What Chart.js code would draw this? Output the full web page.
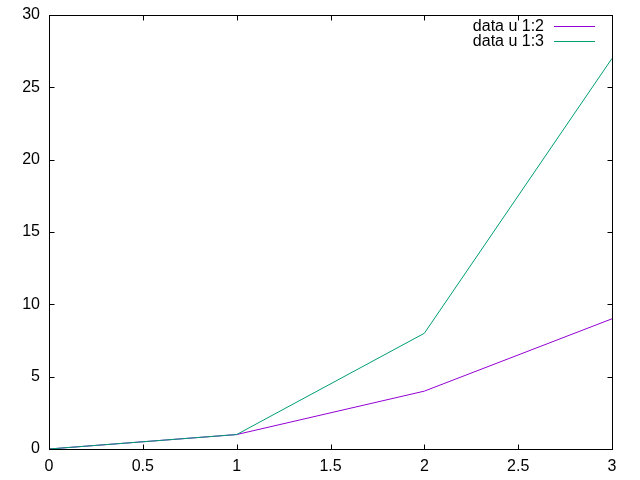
<!DOCTYPE html>
<html>
<head>
<meta charset="utf-8">
<script src="https://cdn.jsdelivr.net/npm/chart.js@4"></script>
<style>
  html, body { margin: 0; padding: 0; background: #fff; }
  #wrap { width: 640px; height: 480px; }
</style>
</head>
<body>
<div id="wrap"><canvas id="plot" width="640" height="480"></canvas></div>
<script>
// data
var xs = [0, 1, 2, 3];
var col2 = [0, 1, 4, 9];
var col3 = [0, 1, 8, 27];
var seriesNames = ['data u 1:2', 'data u 1:3'];
var seriesColors = ['#9400d3', '#009e73'];

var FONT = '16px "Liberation Sans", Arial, sans-serif';

function pts(ys) {
    return xs.map(function (x, i) { return { x: x, y: ys[i] }; });
}

// frame, inward tics (mirrored) and the key, gnuplot style
var gnuFrame = {
    id: 'gnuFrame',
    afterDraw: function (chart) {
        var ctx = chart.ctx, a = chart.chartArea;
        var L = a.left + 0.5, R = a.right + 0.5, T = a.top + 0.5, B = a.bottom + 0.5;
        var tic = 5;
        ctx.save();
        ctx.strokeStyle = '#000';
        ctx.lineWidth = 1;
        ctx.beginPath();
        chart.scales.x.ticks.forEach(function (t) {
            var px = Math.round(chart.scales.x.getPixelForValue(t.value)) + 0.5;
            ctx.moveTo(px, B); ctx.lineTo(px, B - tic);
            ctx.moveTo(px, T); ctx.lineTo(px, T + tic);
        });
        chart.scales.y.ticks.forEach(function (t) {
            var py = Math.round(chart.scales.y.getPixelForValue(t.value)) + 0.5;
            ctx.moveTo(L, py); ctx.lineTo(L + tic, py);
            ctx.moveTo(R, py); ctx.lineTo(R - tic, py);
        });
        ctx.stroke();
        ctx.strokeRect(L, T, R - L, B - T);

        // key
        ctx.font = FONT;
        ctx.textAlign = 'right';
        ctx.textBaseline = 'middle';
        ctx.fillStyle = '#000';
        seriesNames.forEach(function (name, i) {
            var y = 26.5 + i * 15;
            ctx.fillText(name, 544, y);
            ctx.strokeStyle = seriesColors[i];
            ctx.beginPath();
            ctx.moveTo(554, y); ctx.lineTo(595, y);
            ctx.stroke();
        });
        ctx.restore();
    }
};

var chart = new Chart(document.getElementById('plot').getContext('2d'), {
    type: 'line',
    data: {
        datasets: [{
            label: seriesNames[0],
            data: pts(col2),
            borderColor: seriesColors[0],
            borderWidth: 1,
            pointRadius: 0,
            tension: 0,
            order: 1
        }, {
            label: seriesNames[1],
            data: pts(col3),
            borderColor: seriesColors[1],
            borderWidth: 1,
            pointRadius: 0,
            tension: 0,
            order: 0
        }]
    },
    options: {
        responsive: false,
        animation: false,
        layout: { padding: { top: 15, right: 28, left: 0, bottom: 0 } },
        plugins: { legend: { display: false }, tooltip: { enabled: false } },
        scales: {
            x: {
                type: 'linear', min: 0, max: 3,
                grid: { display: false, drawTicks: false }, border: { display: false },
                ticks: { stepSize: 0.5, padding: 8, color: '#000', maxRotation: 0,
                         callback: function (v) { return String(v); },
                         font: { family: '"Liberation Sans", Arial, sans-serif', size: 16 } },
                afterFit: function (s) { s.height = 31; s.paddingLeft = 0; s.paddingRight = 0; }
            },
            y: {
                min: 0, max: 30,
                grid: { display: false, drawTicks: false }, border: { display: false },
                ticks: { stepSize: 5, padding: 9, color: '#000',
                         callback: function (v) { return String(v); },
                         font: { family: '"Liberation Sans", Arial, sans-serif', size: 16 } },
                afterFit: function (s) { s.width = 49; s.paddingTop = 0; s.paddingBottom = 0; }
            }
        }
    },
    plugins: [gnuFrame]
});
</script>
</body>
</html>
